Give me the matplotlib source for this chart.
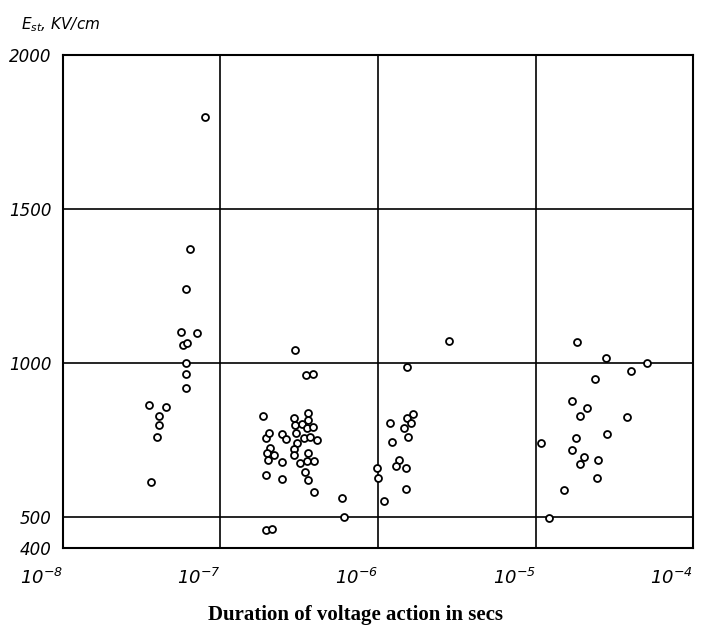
import matplotlib
matplotlib.use("Agg")
import matplotlib.pyplot as plt

plt.rcParams["mathtext.fontset"] = "custom"
plt.rcParams["mathtext.rm"] = "DejaVu Sans:italic"
plt.rcParams["mathtext.it"] = "DejaVu Sans:italic"

# duration of voltage action (s) and breakdown strength E_st (kV/cm)
dur_a = [7.97e-8, 6.43e-8, 6.01e-8, 5.61e-8, 7.09e-8, 5.75e-8, 6.15e-8,
         6.01e-8, 6.01e-8, 6.01e-8, 3.53e-8, 4.49e-8, 4.07e-8, 4.05e-8,
         3.97e-8, 3.60e-8]
e_a = [1800, 1370, 1239, 1100, 1097, 1058, 1065,
       1000, 965, 919, 865, 858, 828, 799,
       760, 615]

dur_b = [1.87e-7, 2.93e-7, 3.61e-7, 2.97e-7, 3.28e-7, 3.58e-7, 3.53e-7,
         3.88e-7, 1.94e-7, 2.03e-7, 2.45e-7, 2.61e-7, 3.00e-7, 3.39e-7,
         3.70e-7, 4.08e-7, 3.05e-7, 2.06e-7, 1.97e-7, 2.20e-7, 2.93e-7,
         2.93e-7, 3.61e-7, 2.00e-7, 2.45e-7, 3.20e-7, 3.53e-7, 3.92e-7,
         1.94e-7, 2.45e-7, 3.44e-7, 3.61e-7, 3.92e-7, 5.93e-7, 6.08e-7,
         1.94e-7, 2.11e-7, 2.97e-7, 3.50e-7, 3.86e-7]
e_b = [828, 823, 839, 799, 801, 815, 790,
       793, 758, 772, 769, 755, 774, 758,
       761, 750, 742, 726, 707, 701, 720,
       701, 707, 686, 680, 675, 683, 683,
       637, 624, 647, 621, 581, 561, 500,
       457, 462, 1043, 960, 965]

dur_c = [2.84e-6, 1.52e-6, 1.68e-6, 1.52e-6, 1.61e-6, 1.19e-6, 1.46e-6,
         1.55e-6, 1.23e-6, 1.35e-6, 1.30e-6, 1.50e-6, 9.9e-7, 1.00e-6,
         1.51e-6, 1.09e-6]
e_c = [1073, 987, 835, 823, 806, 806, 788,
       761, 745, 686, 667, 661, 659, 626,
       593, 552]

dur_d = [1.83e-5, 2.81e-5, 5.11e-5, 4.04e-5, 2.39e-5, 1.71e-5, 2.12e-5,
         1.91e-5, 3.83e-5, 2.83e-5, 1.80e-5, 1.09e-5, 1.71e-5, 2.02e-5,
         1.92e-5, 2.50e-5, 2.45e-5, 1.52e-5, 1.21e-5]
e_d = [1070, 1016, 999, 975, 947, 877, 853,
       829, 826, 769, 757, 740, 717, 694,
       674, 686, 627, 588, 498]

x_ticks = [1e-8, 1e-7, 1e-6, 1e-5, 1e-4]
x_labels = [r"$10^{-8}$", r"$10^{-7}$", r"$10^{-6}$", r"$10^{-5}$",
            r"$10^{-4}$"]
y_ticks = [400, 500, 1000, 1500, 2000]
y_labels = ["400", "500", "1000", "1500", "2000"]

fig = plt.figure(figsize=(7.11, 6.42), dpi=100)
ax = fig.add_axes([0.0886, 0.1464, 0.8861, 0.7679])

for d, e in [(dur_a, e_a), (dur_b, e_b), (dur_c, e_c), (dur_d, e_d)]:
    ax.plot(d, e, "o", mfc="white", mec="black", ms=5, mew=1.3,
            linestyle="none", zorder=3)

ax.set_xscale("log")
ax.set_xlim(1e-8, 1e-4)
ax.set_ylim(400, 2000)

ax.set_xticks(x_ticks)
ax.set_xticklabels(x_labels, fontsize=13)
ax.minorticks_off()
ax.set_yticks(y_ticks)
ax.set_yticklabels(y_labels, fontsize=12, fontstyle="italic")
ax.tick_params(axis="x", length=0, pad=14)
ax.tick_params(axis="y", length=0, pad=8)
for lab in ax.get_xticklabels():
    lab.set_horizontalalignment("right")

for x in x_ticks[1:-1]:
    ax.axvline(x, color="black", lw=1.2, zorder=1)
for y in [500, 1000, 1500]:
    ax.axhline(y, color="black", lw=1.2, zorder=1)
for s in ax.spines.values():
    s.set_linewidth(1.5)

fig.text(0.03, 0.955, r"$E_{\rm st}$, KV/cm", fontsize=11, fontstyle="italic")
fig.text(0.5, 0.035, "Duration of voltage action in secs", ha="center",
         fontsize=15, fontweight="bold", fontfamily="Liberation Serif")

fig.savefig("out.png", dpi=100)
